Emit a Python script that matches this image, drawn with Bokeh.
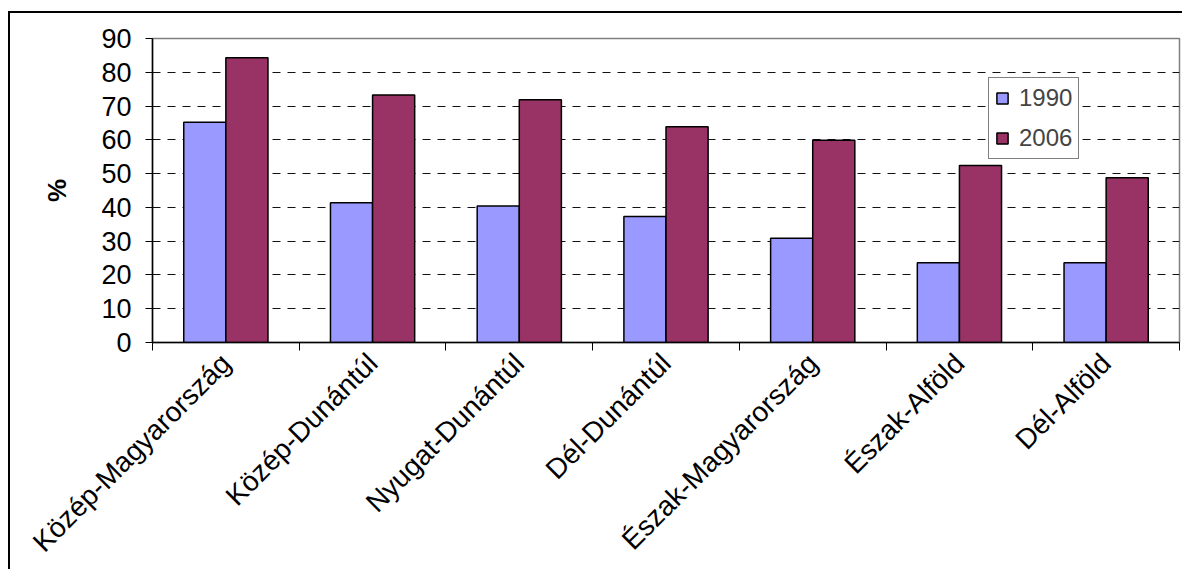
from bokeh.plotting import figure
from bokeh.models import ColumnDataSource, FixedTicker, Legend, LegendItem, InlineStyleSheet
from bokeh.transform import dodge
from bokeh.embed import file_html
from bokeh.resources import INLINE

regions = ["Közép-Magyarország", "Közép-Dunántúl", "Nyugat-Dunántúl", "Dél-Dunántúl",
           "Észak-Magyarország", "Észak-Alföld", "Dél-Alföld"]
v1990 = [65.2, 41.4, 40.4, 37.3, 30.9, 23.6, 23.6]
v2006 = [84.3, 73.3, 71.9, 63.9, 59.9, 52.4, 48.8]
series_names = ["1990", "2006"]
y_ticks = [0, 10, 20, 30, 40, 50, 60, 70, 80, 90]

pos = [i + 0.5 for i in range(len(regions))]
src = ColumnDataSource(dict(x=pos, y1990=v1990, y2006=v2006))

FONT = "Liberation Sans"

p = figure(width=1174, height=558, output_backend="svg", toolbar_location=None,
           x_range=(0, len(regions)), y_range=(0, 90),
           min_border_left=142, min_border_right=5, min_border_top=25, min_border_bottom=229,
           margin=(11, 0, 0, 8))
p.stylesheets.append(InlineStyleSheet(css=":host { border-left: 2px solid #000; border-top: 2px solid #000; }"))
p.background_fill_color = "white"
p.border_fill_color = "white"
p.outline_line_color = "#808080"
p.outline_line_width = 1.5

r1 = p.vbar(x=dodge("x", -0.1435, range=p.x_range), top="y1990", width=0.287, source=src,
            fill_color="#9999FF", line_color="black", line_width=1.5)
r2 = p.vbar(x=dodge("x", 0.1435, range=p.x_range), top="y2006", width=0.287, source=src,
            fill_color="#993366", line_color="black", line_width=1.5)

# y axis
yax = p.yaxis[0]
yax.ticker = FixedTicker(ticks=y_ticks)
yax.axis_line_color = "black"
yax.axis_line_width = 1.5
yax.major_tick_out = 7
yax.major_tick_in = 0
yax.minor_tick_out = 0
yax.minor_tick_in = 0
yax.major_label_text_font = FONT
yax.major_label_text_font_size = "27px"
yax.major_label_text_color = "black"
yax.major_label_standoff = 14
yax.axis_label = "%"
yax.axis_label_text_font = FONT
yax.axis_label_text_font_style = "bold"
yax.axis_label_text_font_size = "26px"
yax.axis_label_text_color = "black"
yax.axis_label_standoff = 26

# x axis: labels at centers, tick marks at category boundaries (minor ticks)
xax = p.xaxis[0]
xax.ticker = FixedTicker(ticks=pos, minor_ticks=list(range(len(regions) + 1)))
xax.major_label_overrides = {pp: r for pp, r in zip(pos, regions)}
xax.major_tick_out = 0
xax.major_tick_in = 0
xax.minor_tick_out = 8
xax.minor_tick_in = 0
xax.minor_tick_line_color = "black"
xax.axis_line_color = "black"
xax.axis_line_width = 1.5
xax.major_label_orientation = 0.785398
xax.major_label_text_font = FONT
xax.major_label_text_font_size = "28px"
xax.major_label_text_color = "black"
xax.major_label_standoff = 8

p.xgrid.grid_line_color = None
p.ygrid.ticker = FixedTicker(ticks=y_ticks)
p.ygrid.grid_line_color = "#111111"
p.ygrid.grid_line_dash = "8 7"
p.ygrid.grid_line_width = 1

legend = Legend(items=[LegendItem(label=series_names[0], renderers=[r1]),
                       LegendItem(label=series_names[1], renderers=[r2])],
                location=(836, 183))
legend.border_line_color = "black"
legend.border_line_width = 1
legend.background_fill_alpha = 1
legend.label_text_font = FONT
legend.label_text_font_size = "24px"
legend.glyph_width = 14
legend.glyph_height = 14
legend.label_standoff = 10
legend.padding = 6
legend.spacing = 12
legend.margin = 0
p.add_layout(legend)

open("out.html", "w").write(file_html(p, INLINE))
